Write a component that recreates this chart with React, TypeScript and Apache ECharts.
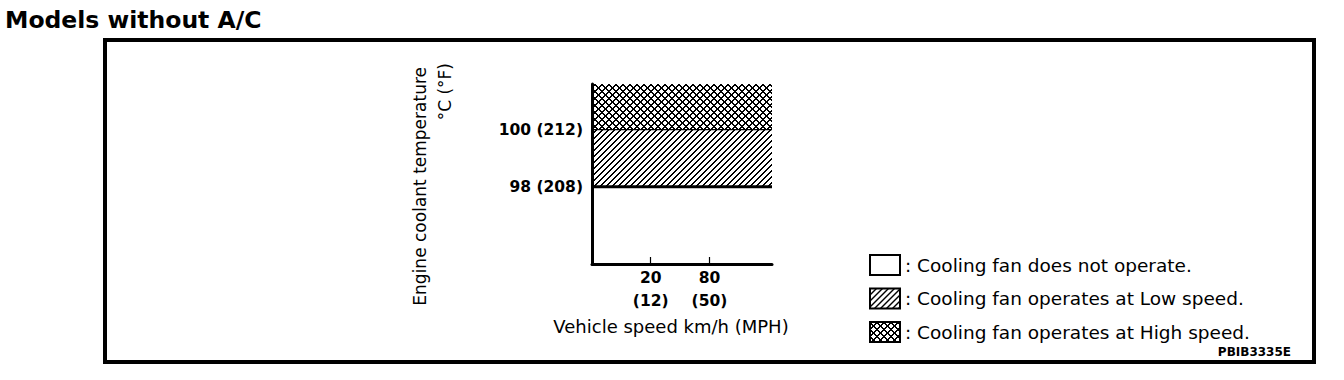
import React, { useEffect, useRef } from "react";
import * as echarts from "echarts";

// Chart content
const TITLE = "Models without A/C";
const FIGURE_CODE = "PBIB3335E";
const X_AXIS_NAME = "Vehicle speed km/h (MPH)";
const Y_AXIS_NAME = "Engine coolant temperature";
const Y_AXIS_UNIT = "°C (°F)";

// Speed axis (km/h), drawn on a log scale so the two marked speeds sit where the schematic puts them
const SPEED_RANGE_KMH = [5, 350];
const SPEED_TICKS_KMH = [20, 80];
const SPEED_TICKS_MPH = [12, 50];

// Coolant temperature axis (°C)
const TEMP_RANGE_C = [95.3, 101.6];
const TEMP_TICKS_C = [98, 100];
const TEMP_TICKS_F = [208, 212];

// Fan operating bands: off / low / high
const BAND_LOWER_C = [95.3, 98, 100];
const BAND_UPPER_C = [98, 100, 101.6];
const BAND_LABELS = [
  ": Cooling fan does not operate.",
  ": Cooling fan operates at Low speed.",
  ": Cooling fan operates at High speed.",
];

const FONT = "DejaVu Sans";

type Dir = "/" | "\\";

// Pixel-exact hatch tile: each diagonal is drawn as a 2px staircase so the pattern stays crisp.
function hatch(period: number, dirs: Dir[]) {
  const c = document.createElement("canvas");
  c.width = period;
  c.height = period;
  const ctx = c.getContext("2d")!;
  ctx.fillStyle = "#fff";
  ctx.fillRect(0, 0, period, period);
  ctx.fillStyle = "#000";
  for (const d of dirs) {
    for (let i = 0; i < period; i++) {
      const y0 = d === "/" ? period - 1 - i : i;
      ctx.fillRect(i, y0, 1, 1);
      ctx.fillRect(i, (y0 + 1) % period, 1, 1);
    }
  }
  return { image: c, repeat: "repeat", imageWidth: period, imageHeight: period };
}

export default function App() {
  const ref = useRef<HTMLDivElement>(null);

  useEffect(() => {
    if (!ref.current) return;
    const chart = echarts.init(ref.current, null, { renderer: "svg" });

    const fills: any[] = ["#ffffff", hatch(6, ["/"]), hatch(7, ["/", "\\"])];

    const bandData = BAND_LOWER_C.map((lo, i) => [
      SPEED_RANGE_KMH[0],
      SPEED_RANGE_KMH[1],
      lo,
      BAND_UPPER_C[i],
      i,
    ]);

    const legendRowsY = [265, 298.5, 332];
    const legendGraphics: any[] = [];
    BAND_LABELS.forEach((label, i) => {
      legendGraphics.push({
        type: "rect",
        x: 870,
        y: legendRowsY[i] - 10,
        shape: { x: 0, y: 0, width: 30, height: 20 },
        style: { fill: fills[i], stroke: "#000", lineWidth: 2 },
      });
      legendGraphics.push({
        type: "text",
        x: 905,
        y: legendRowsY[i],
        style: {
          text: label,
          font: `18.5px "${FONT}"`,
          fill: "#000",
          align: "left",
          verticalAlign: "middle",
        },
      });
    });

    const option: any = {
      animation: false,
      backgroundColor: "#ffffff",
      grid: { left: 592, right: 572, top: 84, bottom: 116 },
      xAxis: {
        type: "log",
        logBase: 10,
        min: SPEED_RANGE_KMH[0],
        max: SPEED_RANGE_KMH[1],
        z: 5,
        axisLine: { show: true, lineStyle: { color: "#000", width: 3 } },
        axisTick: {
          show: true,
          inside: true,
          length: 7,
          customValues: SPEED_TICKS_KMH,
          lineStyle: { color: "#000", width: 1.2 },
        },
        axisLabel: {
          show: true,
          customValues: SPEED_TICKS_KMH,
          formatter: (v: number) => {
            const i = SPEED_TICKS_KMH.indexOf(Math.round(v));
            return `${Math.round(v)}\n(${SPEED_TICKS_MPH[i]})`;
          },
          color: "#000",
          fontFamily: FONT,
          fontWeight: "bold",
          fontSize: 15.5,
          lineHeight: 23,
          margin: 2,
        },
        splitLine: { show: false },
        minorTick: { show: false },
      },
      yAxis: {
        type: "value",
        min: TEMP_RANGE_C[0],
        max: TEMP_RANGE_C[1],
        z: 5,
        axisLine: { show: true, lineStyle: { color: "#000", width: 3 } },
        axisTick: { show: false },
        axisLabel: {
          show: true,
          customValues: TEMP_TICKS_C,
          formatter: (v: number) => {
            const i = TEMP_TICKS_C.indexOf(Math.round(v));
            return `${Math.round(v)} (${TEMP_TICKS_F[i]})`;
          },
          color: "#000",
          fontFamily: FONT,
          fontWeight: "bold",
          fontSize: 15.5,
          margin: 9,
        },
        splitLine: { show: false },
      },
      series: [
        {
          type: "custom",
          name: "bands",
          data: bandData,
          encode: { x: [0, 1], y: [2, 3] },
          z: 1,
          renderItem: (_params: any, api: any) => {
            const tl = api.coord([api.value(0), api.value(3)]);
            const br = api.coord([api.value(1), api.value(2)]);
            const i = api.value(4);
            return {
              type: "rect",
              shape: {
                x: tl[0],
                y: tl[1],
                width: br[0] - tl[0],
                height: br[1] - tl[1],
              },
              style: { fill: fills[i], stroke: null },
            };
          },
        },
        // threshold boundaries: 98 °C (heavy) and 100 °C (light)
        {
          type: "line",
          symbol: "none",
          z: 3,
          data: [
            [SPEED_RANGE_KMH[0], TEMP_TICKS_C[0]],
            [SPEED_RANGE_KMH[1], TEMP_TICKS_C[0]],
          ],
          lineStyle: { color: "#000", width: 3 },
        },
        {
          type: "line",
          symbol: "none",
          z: 3,
          data: [
            [SPEED_RANGE_KMH[0], TEMP_TICKS_C[1]],
            [SPEED_RANGE_KMH[1], TEMP_TICKS_C[1]],
          ],
          lineStyle: { color: "#000", width: 1.2 },
        },
      ],
      graphic: [
        {
          type: "text",
          x: 5,
          y: 20,
          style: {
            text: TITLE,
            font: `bold 23.5px "${FONT}"`,
            fill: "#000",
            align: "left",
            verticalAlign: "middle",
          },
        },
        {
          type: "rect",
          shape: { x: 105, y: 40, width: 1209, height: 322 },
          style: { fill: "none", stroke: "#000", lineWidth: 4 },
        },
        {
          type: "text",
          x: 420,
          y: 67,
          rotation: Math.PI / 2,
          style: {
            text: Y_AXIS_NAME,
            font: `17px "${FONT}"`,
            fill: "#000",
            align: "right",
            verticalAlign: "middle",
          },
        },
        {
          type: "text",
          x: 445,
          y: 63,
          rotation: Math.PI / 2,
          style: {
            text: Y_AXIS_UNIT,
            font: `17px "${FONT}"`,
            fill: "#000",
            align: "right",
            verticalAlign: "middle",
          },
        },
        {
          type: "text",
          x: 671,
          y: 326,
          style: {
            text: X_AXIS_NAME,
            font: `18px "${FONT}"`,
            fill: "#000",
            align: "center",
            verticalAlign: "middle",
          },
        },
        ...legendGraphics,
        {
          type: "text",
          x: 1291,
          y: 352,
          style: {
            text: FIGURE_CODE,
            font: `bold 12px "${FONT}"`,
            fill: "#000",
            align: "right",
            verticalAlign: "middle",
          },
        },
      ],
    };

    chart.setOption(option);
    return () => chart.dispose();
  }, []);

  return (
    <div
      ref={ref}
      style={{ position: "fixed", left: 0, top: 0, width: 1344, height: 380 }}
    />
  );
}
